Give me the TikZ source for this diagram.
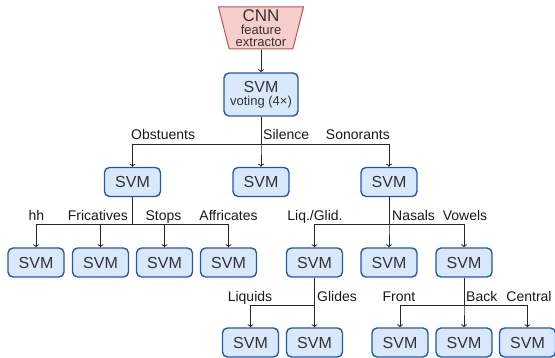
\documentclass[tikz,border=0pt]{standalone}
\usepackage{fontspec}
\setmainfont{Liberation Sans}
\usetikzlibrary{arrows.meta,shapes.geometric}
\definecolor{boxfill}{HTML}{DAE8FC}
\definecolor{boxdraw}{HTML}{2058B5}
\definecolor{redfill}{HTML}{F8CECC}
\definecolor{reddraw}{HTML}{B85450}
\definecolor{txt}{HTML}{333333}
\begin{document}
\begin{tikzpicture}[x=1pt,y=-1pt,
  svm/.style={draw=boxdraw, fill=boxfill, line width=1.4pt, rounded corners=5pt,
    minimum width=56pt, minimum height=29pt, inner sep=0pt, text=txt,
    font=\fontsize{16}{18}\selectfont},
  inl/.style={inner sep=0pt, text=txt, anchor=base},
  lbl/.style={font=\fontsize{14}{16}\selectfont, inner sep=0pt, text=black!90},
  arr/.style={draw=black!85, line width=0.8pt, -{To[length=3pt,width=6pt]}}]
\useasboundingbox (0,0) rectangle (555,358);
% top
\node[trapezium, shape border rotate=180, trapezium stretches=true,
  minimum width=85pt, minimum height=42pt, trapezium angle=80.5,
  draw=reddraw, fill=redfill, line width=1pt, inner sep=2pt]
  (cnn) at (261,28) {};
\node[inl, font=\fontsize{17}{17}\selectfont] (cnnt) at (261,21.7) {CNN};
\node[inl, font=\fontsize{13}{13}\selectfont] (cnnf) at (261,35) {feature};
\node[inl, font=\fontsize{13}{13}\selectfont] (cnne) at (261,46.5) {extractor};
\node[svm, minimum width=74pt, minimum height=43pt] (vote) at (261,94.5) {};
\node[inl, font=\fontsize{16}{16}\selectfont] (votet) at (261,93) {SVM};
\node[inl, font=\fontsize{13}{13}\selectfont] (votev) at (261,106) {voting (4×)};
% level 2
\node[svm] (obs) at (132.5,182) {SVM};
\node[svm] (sil) at (261,182) {SVM};
\node[svm] (son) at (389,182) {SVM};
% level 3
\node[svm] (hh)  at (36,262.5) {SVM};
\node[svm] (fri) at (100.5,262.5) {SVM};
\node[svm] (sto) at (164.5,262.5) {SVM};
\node[svm] (aff) at (228.5,262.5) {SVM};
\node[svm] (lg)  at (314.5,262.5) {SVM};
\node[svm] (nas) at (389,262.5) {SVM};
\node[svm] (vow) at (464,262.5) {SVM};
% level 4
\node[svm] (liq) at (250.5,342.5) {SVM};
\node[svm] (gli) at (314.5,342.5) {SVM};
\node[svm] (fro) at (400,342.5) {SVM};
\node[svm] (bac) at (464,342.5) {SVM};
\node[svm] (cen) at (527.5,342.5) {SVM};
% bus levels
\coordinate (b1) at (0,144);
\coordinate (b2) at (0,224);
\coordinate (b3) at (0,305);
% connectors
\draw[arr] (cnn.south) -- (vote.north);
\foreach \c in {obs,sil,son} \draw[arr] (vote.south) -- (vote.south |- b1) -| (\c.north);
\foreach \c in {hh,fri,sto,aff} \draw[arr] (obs.south) -- (obs.south |- b2) -| (\c.north);
\foreach \c in {lg,nas,vow} \draw[arr] (son.south) -- (son.south |- b2) -| (\c.north);
\foreach \c in {liq,gli} \draw[arr] (lg.south) -- (lg.south |- b3) -| (\c.north);
\foreach \c in {fro,bac,cen} \draw[arr] (vow.south) -- (vow.south |- b3) -| (\c.north);
% labels
\node[lbl, anchor=base west] (l1) at (131,140) {Obstuents};
\node[lbl, anchor=base west] (l2) at (263,140) {Silence};
\node[lbl, anchor=base east] (l3) at (390,140) {Sonorants};
\node[lbl, anchor=base] (l4) at (36.5,221) {hh};
\node[lbl, anchor=base east] (l5) at (128,221) {Fricatives};
\node[lbl, anchor=base] (l6) at (163.5,221) {Stops};
\node[lbl, anchor=base] (l7) at (228.5,221) {Affricates};
\node[lbl, anchor=base] (l8) at (315,221) {Liq./Glid.};
\node[lbl, anchor=base west] (l9) at (392,221) {Nasals};
\node[lbl, anchor=base] (l10) at (465,221) {Vowels};
\node[lbl, anchor=base] (l11) at (250,302) {Liquids};
\node[lbl, anchor=base west] (l12) at (317,302) {Glides};
\node[lbl, anchor=base] (l13) at (399,302) {Front};
\node[lbl, anchor=base west] (l14) at (466,302) {Back};
\node[lbl, anchor=base] (l15) at (529,302) {Central};
\end{tikzpicture}
\end{document}
